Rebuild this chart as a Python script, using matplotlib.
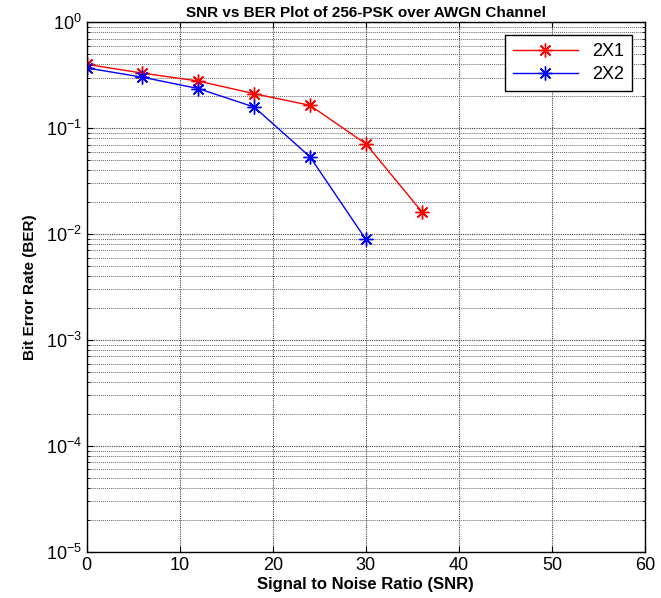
import matplotlib
matplotlib.use("Agg")
import matplotlib.pyplot as plt
from matplotlib.ticker import LogLocator, NullFormatter

plt.rcParams['font.family'] = ['Liberation Sans', 'DejaVu Sans']
plt.rcParams['mathtext.fontset'] = 'custom'
plt.rcParams['mathtext.rm'] = 'Liberation Sans'
plt.rcParams['mathtext.it'] = 'Liberation Sans'
plt.rcParams['mathtext.bf'] = 'Liberation Sans:bold'

# SNR (dB) and BER values
snr_2x1 = [0, 6, 12, 18, 24, 30, 36]
ber_2x1 = [0.40, 0.33, 0.278, 0.211, 0.164, 0.071, 0.0163]
snr_2x2 = [0, 6, 12, 18, 24, 30]
ber_2x2 = [0.37, 0.302, 0.236, 0.158, 0.0536, 0.0089]

fig = plt.figure(figsize=(6.61, 5.98), dpi=100)
ax = fig.add_axes([0.131, 0.077, 0.845, 0.886])

star = (8, 2, 0)  # matlab-like asterisk
ax.semilogy(snr_2x1, ber_2x1, color='red', marker=star, lw=1, ms=10, mew=1, label='2X1')
ax.semilogy(snr_2x2, ber_2x2, color='blue', marker=star, lw=1, ms=10, mew=1, label='2X2')

ax.set_xlim(0, 60)
ax.set_ylim(1e-5, 1)
ax.set_xticks(range(0, 61, 10))
ax.yaxis.set_major_locator(LogLocator(base=10, numticks=10))
ax.yaxis.set_minor_locator(LogLocator(base=10, subs=range(2, 10), numticks=100))
ax.yaxis.set_minor_formatter(NullFormatter())

ax.grid(True, which='major', color='0.25', ls=(0, (1, 1)), lw=0.8)
ax.grid(True, which='minor', axis='y', color='0.4', ls=(0, (1, 1)), lw=0.7)

ax.tick_params(which='both', direction='in', top=True, right=True, labelsize=13)
ax.tick_params(which='major', length=4)
ax.tick_params(which='minor', length=2)
for s in ax.spines.values():
    s.set_linewidth(1)

ax.set_title('SNR vs BER Plot of 256-PSK over AWGN Channel', fontsize=11, fontweight='bold', pad=4)
ax.set_xlabel('Signal to Noise Ratio (SNR)', fontsize=12, fontweight='bold', labelpad=2)
ax.set_ylabel('Bit Error Rate (BER)', fontsize=11, fontweight='bold', labelpad=6)

leg = ax.legend(loc='upper right', fontsize=13, fancybox=False, framealpha=1,
                edgecolor='black', handlelength=3.6, borderaxespad=0.7,
                borderpad=0.45, labelspacing=0.35, handletextpad=0.8)
leg.get_frame().set_linewidth(1)

fig.savefig('out.png', dpi=100)
